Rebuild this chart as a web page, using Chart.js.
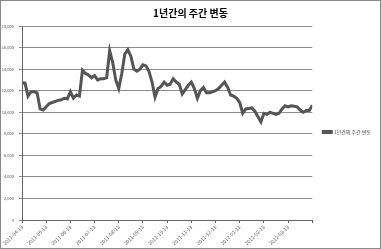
<!DOCTYPE html>
<html>
<head>
<meta charset="utf-8">
<script src="https://cdn.jsdelivr.net/npm/chart.js@4"></script>
<style>
  html, body { margin: 0; padding: 0; background: #fff; }
  #wrap { width: 381px; height: 249px; position: relative; }
</style>
</head>
<body>
<div id="wrap"><canvas id="chart" width="381" height="249"></canvas></div>
<script>
const title = '1년간의 주간 변동';
const seriesName = '1년간의 주간 변동';

// month tick labels (one every 8 samples)
const monthLabels = ['2011-04-13', '2011-05-13', '2011-06-13', '2011-07-13', '2011-08-13', '2011-09-13',
  '2011-10-13', '2011-11-13', '2011-12-13', '2012-01-13', '2012-02-13', '2012-03-13'];
const samplesPerMonth = 8;

// values, evenly spaced
const prices = [
  12700, 12700, 11500, 11900, 11900, 11800, 10300, 10200,
  10500, 10800, 10900, 11000, 11100, 11150, 11300, 11250,
  11900, 11300, 11600, 11500, 13900, 13600, 13450, 13200,
  13400, 13000, 13100, 13100, 13200, 15700, 14600, 13000,
  12200, 13600, 15400, 15800, 15200, 14000, 13800, 14000,
  14400, 14300, 13800, 12800, 11400, 12200, 12400, 12800,
  12500, 12600, 13100, 12800, 12600, 11700, 12100, 12500,
  12800, 12200, 11300, 12000, 12300, 11800, 11800, 11900,
  12000, 12200, 12500, 12800, 12300, 11600, 11500, 11300,
  10900, 9900, 10300, 10350, 10400, 10100, 9600, 9100,
  9900, 9800, 10000, 9900, 9800, 9900, 10300, 10600,
  10500, 10600, 10550, 10500, 10200, 10000, 10150, 10150,
  10650
];

const yTicks = { min: 0, max: 18000, step: 2000 };

const points = prices.map((v, i) => ({ x: i, y: v }));
const font = '"Noto Sans CJK KR", "Noto Sans", sans-serif';

// white background + outer frame like the spreadsheet chart area
const frame = {
  id: 'frame',
  beforeDraw(chart) {
    const c = chart.ctx;
    c.save();
    c.fillStyle = '#fff';
    c.fillRect(0, 0, chart.width, chart.height);
    c.strokeStyle = '#8a8a8a';
    c.lineWidth = 1;
    c.strokeRect(0.5, 0.5, chart.width - 1, chart.height - 1);
    c.restore();
  }
};

new Chart(document.getElementById('chart'), {
  type: 'line',
  data: {
    datasets: [{
      label: seriesName,
      data: points,
      borderColor: '#555555',
      backgroundColor: '#555555',
      borderWidth: 3,
      pointRadius: 0,
      tension: 0
    }]
  },
  options: {
    responsive: false,
    animation: false,
    devicePixelRatio: 1,
    layout: { padding: { top: 0, right: 0, bottom: 4, left: 0 } },
    plugins: {
      title: {
        display: true,
        text: title,
        color: '#000',
        font: { family: font, size: 10, weight: 'bold' },
        padding: { top: 7, bottom: 7 }
      },
      legend: {
        position: 'right',
        title: { display: true, text: ' ', padding: 0, font: { size: 16 } },
        labels: {
          boxWidth: 8,
          boxHeight: 1,
          padding: 11,
          color: '#444',
          font: { family: font, size: 5 }
        }
      },
      tooltip: { enabled: false }
    },
    scales: {
      x: {
        type: 'linear',
        min: 0,
        max: prices.length - 1,
        grid: { drawOnChartArea: false, drawTicks: true, tickLength: 3, color: '#666' },
        border: { color: '#666' },
        ticks: {
          stepSize: samplesPerMonth,
          minRotation: 45,
          maxRotation: 45,
          autoSkip: false,
          padding: 1,
          color: '#555',
          font: { family: font, size: 5 },
          callback: v => monthLabels[v / samplesPerMonth] || ''
        },
        afterFit(axis) { axis.height = 25; }
      },
      y: {
        min: yTicks.min,
        max: yTicks.max,
        grid: { color: '#8c8c8c', tickLength: 3 },
        border: { color: '#666' },
        ticks: {
          stepSize: yTicks.step,
          padding: 5,
          color: '#555',
          font: { family: font, size: 4 }
        },
        afterFit(axis) { axis.width = 22; }
      }
    }
  },
  plugins: [frame]
});
</script>
</body>
</html>
